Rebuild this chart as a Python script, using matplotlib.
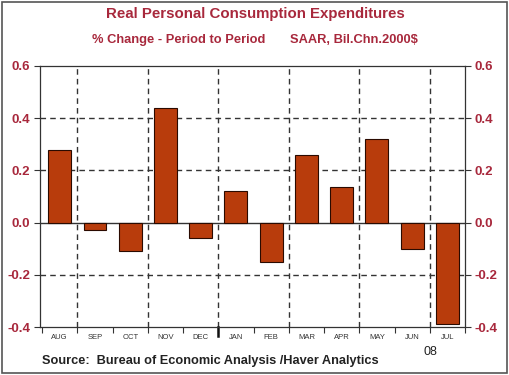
import matplotlib
matplotlib.use("Agg")
import matplotlib.pyplot as plt
from matplotlib.patches import Rectangle
import numpy as np

plt.rcParams["font.family"] = ["Liberation Sans", "DejaVu Sans"]

months = ["AUG", "SEP", "OCT", "NOV", "DEC", "JAN", "FEB", "MAR", "APR", "MAY", "JUN", "JUL"]
values = [0.28, -0.03, -0.11, 0.44, -0.06, 0.12, -0.15, 0.26, 0.135, 0.32, -0.10, -0.39]
yticks = [-0.4, -0.2, 0.0, 0.2, 0.4, 0.6]
ytick_labels = ["-0.4", "-0.2", "0.0", "0.2", "0.4", "0.6"]

red = "#A8283C"
bar_color = "#B83C0C"

fig = plt.figure(figsize=(5.10, 3.75), dpi=100)
fig.patch.set_facecolor("white")
fig.add_artist(Rectangle((0.004, 0.006), 0.99, 0.988, transform=fig.transFigure,
                         fill=False, edgecolor="#555555", linewidth=1.2))

ax = fig.add_axes([40/510, 1-327/375, (465-40)/510, (327-66)/375])
x = np.arange(len(months))
ax.bar(x, values, width=0.65, color=bar_color, edgecolor="#2a0a00", linewidth=0.8, zorder=3)
ax.set_xlim(-0.56, 11.5)
ax.set_ylim(-0.4, 0.6)

for yv in [0.4, 0.2, -0.2]:
    ax.axhline(yv, color="#333333", linestyle=(0, (4, 3)), linewidth=1.0, zorder=1)
ax.axhline(0.0, color="#333333", linewidth=1.0, zorder=2)
for xv in [0.5, 2.5, 4.5, 6.5, 8.5, 10.5]:
    ax.axvline(xv, color="#333333", linestyle=(0, (4, 3)), linewidth=1.0, zorder=1)

ax.set_yticks(yticks)
ax.set_yticklabels(ytick_labels)
ax.tick_params(axis="y", which="both", direction="out", length=4, width=0.8,
               labelcolor=red, labelsize=9.5, left=True, right=True,
               labelleft=True, labelright=True, color="#333333", pad=3)
for t in ax.yaxis.get_major_ticks():
    t.label1.set_fontweight("bold")
    t.label2.set_fontweight("bold")

bounds = np.arange(-0.5, 12.0, 1.0)
ax.set_xticks(bounds)
ax.set_xticklabels([])
ax.tick_params(axis="x", which="major", direction="out", length=4, width=0.8, color="#333333")
for xi, m in zip(x, months):
    ax.text(xi, -0.425, m, ha="center", va="top", fontsize=5.5, color="#333333",
            transform=ax.transData)
ax.plot([4.5, 4.5], [-0.4, -0.435], color="#111111", linewidth=1.8, clip_on=False)

for sp in ax.spines.values():
    sp.set_color("#333333")
    sp.set_linewidth(0.9)

fig.text(0.5, 1-14/375, "Real Personal Consumption Expenditures", ha="center", va="center",
         fontsize=10.8, color=red, fontweight="bold")
fig.text(179/510, 1-40/375, "% Change - Period to Period", ha="center", va="center",
         fontsize=9.3, color=red, fontweight="bold")
fig.text(354/510, 1-40/375, "SAAR, Bil.Chn.2000$", ha="center", va="center",
         fontsize=9.3, color=red, fontweight="bold")
fig.text(430/510, 1-352/375, "08", ha="center", va="center", fontsize=9, color="#222222")
fig.text(42/510, 1-361/375, "Source:  Bureau of Economic Analysis /Haver Analytics", ha="left",
         va="center", fontsize=9.2, color="#222222", fontweight="bold")

fig.savefig("out.png", dpi=100)
